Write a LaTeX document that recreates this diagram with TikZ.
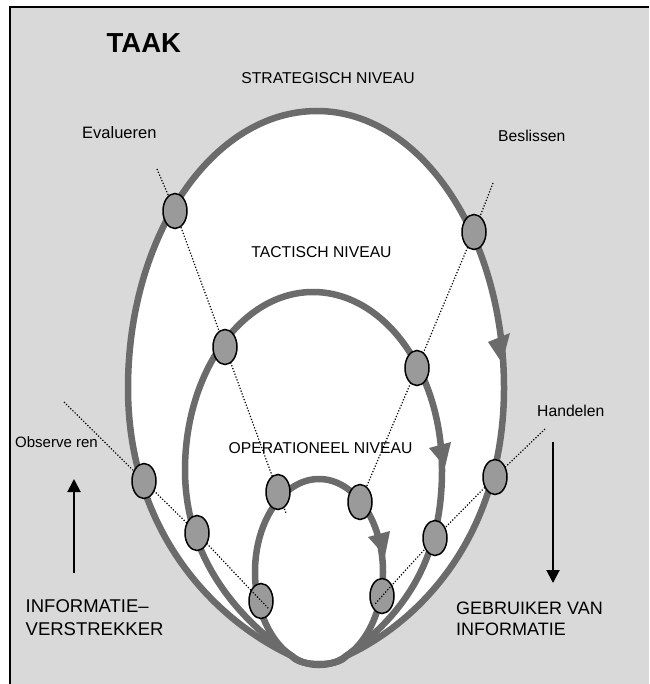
\documentclass[tikz,border=0pt]{standalone}
\usepackage{fontspec}
\setmainfont{Liberation Sans}
\usetikzlibrary{arrows.meta,shapes.geometric}
\pgfdeclarelayer{bg}
\pgfdeclarelayer{lines}
\pgfdeclarelayer{top}
\pgfsetlayers{bg,lines,main,top}
\definecolor{ring}{HTML}{6B6B6B}
\definecolor{dotfill}{HTML}{9A9A9A}
\definecolor{paper}{HTML}{D9D9D9}
\begin{document}
\begin{tikzpicture}[x=1pt,y=-1pt,
  ringline/.style={draw=ring,line width=6.5pt},
  actnode/.style={ellipse,draw=black,fill=dotfill,line width=1.5pt,minimum width=24pt,minimum height=35pt,inner sep=0pt},
  dotline/.style={black,line width=1.2pt,dash pattern=on 1.2pt off 1.8pt},
  lbl/.style={inner sep=0pt,anchor=base west,font=\fontsize{15.7}{18}\selectfont},
  big/.style={inner sep=0pt,anchor=base west,font=\fontsize{18.5}{22}\selectfont},
  flow/.style={line width=2pt,-{Triangle[width=13pt,length=13pt]}}]
\useasboundingbox (0,0) rectangle (649,684);

% background, frame and rings
\begin{pgfonlayer}{bg}
\fill[paper] (10,7) rectangle (649,684);
\draw[line width=2pt] (10,684) -- (10,7) -- (649,7);
% outer ring (strategisch)
\path[fill=white,ringline] (292,656) .. controls (210.5,617.9) and (128,528) .. (128,388)
  .. controls (128,235) and (212.7,111) .. (317,111)
  .. controls (420.2,111) and (504,235) .. (504,388)
  .. controls (504,528) and (427.5,617.9) .. (346,656)
  .. controls (338,667) and (300,667) .. cycle;
% middle ring (tactisch)
\path[ringline] (292,656) .. controls (218.3,604.4) and (185,540) .. (185,470)
  .. controls (185,371.7) and (242.3,292) .. (313,292)
  .. controls (384.2,292) and (442,371.7) .. (442,470)
  .. controls (442,540) and (419.7,604.4) .. (346,656)
  .. controls (338,667) and (300,667) .. cycle;
% inner ring (operationeel)
\draw[ringline] (319,572) ellipse [x radius=64pt, y radius=93pt];
% direction tips on the rings
\fill[ring] (488,342) -- (510,333) -- (502,363) -- cycle;
\fill[ring] (429,448) -- (451,442) -- (445,467) -- cycle;
\fill[ring] (368,537) -- (390,531) -- (385,556) -- cycle;
\end{pgfonlayer}

% activity nodes
\node[actnode] (nEv) at (175,211) {};
\node[actnode] (nBe) at (474,232) {};
\node[actnode] (nOb) at (144,481) {};
\node[actnode] (nHa) at (495,477) {};
\node[actnode] (mUL) at (225,347) {};
\node[actnode] (mUR) at (417,368) {};
\node[actnode] (mLL) at (197,533) {};
\node[actnode] (mLR) at (435,538) {};
\node[actnode] (iUL) at (278,492) {};
\node[actnode] (iUR) at (360,502) {};
\node[actnode] (iLL) at (261,601) {};
\node[actnode] (iLR) at (382,596) {};

\coordinate (ev0) at (157,169);
\coordinate (ev1) at (286,513);
\coordinate (be0) at (493,183);
\coordinate (ob0) at (64,402);
\coordinate (ob1) at (269,609);
\coordinate (ha0) at (545,429);
\coordinate (ha1) at (375,604);

\begin{pgfonlayer}{lines}
\draw[dotline] (ev0) -- (nEv.center) -- (mUL.center) -- (iUL.center) -- (ev1);
\draw[dotline] (be0) -- (nBe.center) -- (mUR.center) -- (iUR.center);
\draw[dotline] (ob0) -- (nOb.center) -- (mLL.center) -- (iLL.center);
\draw[dotline] (ha0) -- (nHa.center) -- (mLR.center) -- (iLR.center);
\end{pgfonlayer}
\begin{pgfonlayer}{top}
\draw[dotline] (iLL.133) -- (ob1);
\draw[dotline] (iLR.48) -- (ha1);
\end{pgfonlayer}

% labels
\node[inner sep=0pt,anchor=base west,font=\bfseries\fontsize{27.5}{30}\selectfont] (taak) at (106.5,53) {TAAK};
\node[lbl,anchor=base] (strat) at (328,84) {STRATEGISCH NIVEAU};
\node[lbl,font=\fontsize{16.5}{19}\selectfont] (eval) at (82,139) {Evalueren};
\node[lbl] (besl) at (498,142) {Beslissen};
\node[lbl,anchor=base] (tact) at (321.5,258) {TACTISCH NIVEAU};
\node[lbl,anchor=base] (oper) at (320.5,453) {OPERATIONEEL NIVEAU};
\node[lbl,font=\fontsize{15}{18}\selectfont] (obs) at (15,447) {Observe ren};
\node[lbl] (hand) at (537,416) {Handelen};
\node[big] (inf1) at (25.5,612) {INFORMATIE–};
\node[big] (inf2) at (25.5,635) {VERSTREKKER};
\node[big,font=\fontsize{18}{22}\selectfont] (geb1) at (456,614.5) {GEBRUIKER VAN};
\node[big,font=\fontsize{18}{22}\selectfont] (geb2) at (456,635) {INFORMATIE};

% information flow arrows
\coordinate (upS) at (74,573);
\coordinate (upE) at (74,479);
\coordinate (dnS) at (553,442);
\coordinate (dnE) at (553,583);
\draw[flow] (upS) -- (upE);
\draw[flow] (dnS) -- (dnE);
\end{tikzpicture}
\end{document}
